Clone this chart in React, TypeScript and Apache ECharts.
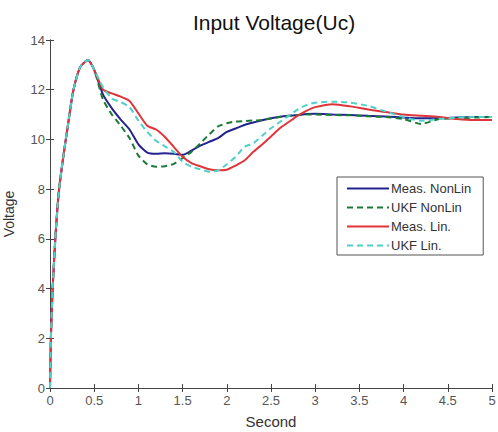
import React, { useEffect, useRef } from "react";
import * as echarts from "echarts";

const time = [0, 0.01, 0.03, 0.06, 0.1, 0.15, 0.2, 0.26, 0.34, 0.43, 0.5, 0.6, 0.7, 0.8, 0.9, 1.0, 1.1, 1.2, 1.3, 1.4, 1.5, 1.6, 1.7, 1.8, 1.9, 2.0, 2.1, 2.2, 2.3, 2.4, 2.5, 2.6, 2.7, 2.8, 2.9, 3.0, 3.2, 3.4, 3.6, 3.8, 4.0, 4.2, 4.4, 4.6, 4.8, 5.0];

const rise = [0, 2, 4, 6, 7.9, 9.3, 10.5, 11.9, 12.9, 13.2, 12.8];

const measNonLin = [...rise, 11.8, 11.25, 10.8, 10.4, 9.8, 9.47, 9.42, 9.44, 9.42, 9.38, 9.55, 9.75, 9.9, 10.05, 10.3, 10.44, 10.58, 10.68, 10.77, 10.85, 10.91, 10.95, 10.98, 11.02, 11.03, 11.0, 10.98, 10.95, 10.92, 10.88, 10.85, 10.85, 10.88, 10.9, 10.9];
const ukfNonLin = [...rise, 11.6, 11.0, 10.55, 10.05, 9.35, 9.0, 8.9, 8.92, 9.02, 9.25, 9.5, 9.84, 10.2, 10.52, 10.65, 10.72, 10.74, 10.76, 10.78, 10.84, 10.9, 10.95, 10.98, 11.0, 11.0, 10.98, 10.97, 10.93, 10.9, 10.82, 10.62, 10.82, 10.85, 10.88, 10.9];
const measLin = [...rise, 12.0, 11.85, 11.72, 11.55, 11.05, 10.55, 10.4, 10.1, 9.7, 9.3, 9.05, 8.92, 8.8, 8.76, 8.78, 8.95, 9.15, 9.5, 9.8, 10.12, 10.45, 10.7, 10.95, 11.15, 11.3, 11.42, 11.33, 11.2, 11.1, 11.0, 10.95, 10.9, 10.82, 10.78, 10.78];
const ukfLin = [...rise, 12.1, 11.65, 11.5, 11.3, 10.75, 10.3, 9.95, 9.72, 9.5, 9.1, 8.9, 8.8, 8.7, 8.75, 9.0, 9.3, 9.7, 9.85, 10.15, 10.45, 10.7, 10.95, 11.2, 11.38, 11.48, 11.52, 11.48, 11.35, 11.12, 10.9, 10.75, 10.82, 10.88, 10.9, 10.9];

const seriesNames = ["Meas. NonLin", "UKF NonLin", "Meas. Lin.", "UKF Lin."];

const pair = (vals: number[]) => time.map((t, i) => [t, vals[i]]);

export default function App() {
  const ref = useRef<HTMLDivElement>(null);
  useEffect(() => {
    if (!ref.current) return;
    const chart = echarts.init(ref.current, null, { renderer: "svg" });
    const font = "Liberation Sans, Arial, sans-serif";
    const axisColor = "#444";
    const lineSeries = (name: string, data: number[], color: string, dashed: boolean) => ({
      name,
      type: "line",
      data: pair(data),
      xAxisIndex: 0,
      yAxisIndex: 0,
      symbol: "none",
      smooth: 0.2,
      lineStyle: { color, width: 2, type: dashed ? [6, 4] : "solid" },
      itemStyle: { color },
    });
    chart.setOption({
      animation: false,
      backgroundColor: "#fff",
      textStyle: { fontFamily: font },
      title: {
        text: "Input Voltage(Uc)",
        left: 269,
        top: 7,
        textAlign: "center",
        textStyle: { fontSize: 21, fontWeight: "normal", color: "#111", fontFamily: font },
      },
      grid: { left: 50, right: 6, top: 40, bottom: 44, containLabel: false, outerBoundsMode: "none" },
      legend: {
        orient: "vertical",
        left: 337,
        top: 177,
        data: seriesNames,
        itemWidth: 42,
        itemHeight: 14,
        itemGap: 6,
        padding: [5, 12, 3, 9],
        backgroundColor: "#fff",
        borderColor: "#555",
        borderWidth: 1,
        borderRadius: 0,
        itemStyle: { opacity: 0 },
        textStyle: { fontSize: 13, color: "#333", fontFamily: font, padding: [0, 0, 0, -3] },
      },
      xAxis: [
        {
          type: "value",
          min: 0,
          max: 5,
          interval: 0.5,
          name: "Second",
          nameLocation: "middle",
          nameGap: 26,
          nameTextStyle: { fontSize: 15, color: "#333", fontFamily: font },
          axisLine: { show: true, lineStyle: { color: axisColor, width: 1 } },
          axisTick: { show: true, inside: true, length: 4, lineStyle: { color: axisColor } },
          axisLabel: { fontSize: 13, color: "#555", margin: 6, fontFamily: font },
          splitLine: { show: false },
        },
        {
          type: "value",
          position: "top",
          min: 0,
          max: 5,
          interval: 0.5,
          axisLine: { show: true, lineStyle: { color: axisColor, width: 1 } },
          axisTick: { show: true, inside: true, length: 4, lineStyle: { color: axisColor } },
          axisLabel: { show: false },
          splitLine: { show: false },
        },
      ],
      yAxis: [
        {
          type: "value",
          min: 0,
          max: 14,
          interval: 2,
          name: "Voltage",
          nameLocation: "middle",
          nameGap: 34,
          nameTextStyle: { fontSize: 14, color: "#333", fontFamily: font },
          axisLine: { show: true, lineStyle: { color: axisColor, width: 1 } },
          axisTick: { show: true, inside: true, length: 4, lineStyle: { color: axisColor } },
          axisLabel: { fontSize: 13, color: "#555", margin: 5, fontFamily: font },
          splitLine: { show: false },
        },
        {
          type: "value",
          position: "right",
          min: 0,
          max: 14,
          interval: 2,
          axisLine: { show: true, lineStyle: { color: axisColor, width: 1 } },
          axisTick: { show: true, inside: true, length: 4, lineStyle: { color: axisColor } },
          axisLabel: { show: false },
          splitLine: { show: false },
        },
      ],
      series: [
        lineSeries(seriesNames[0], measNonLin, "#23238f", false),
        lineSeries(seriesNames[1], ukfNonLin, "#1d7a36", true),
        lineSeries(seriesNames[2], measLin, "#e0343a", false),
        lineSeries(seriesNames[3], ukfLin, "#4fd0c8", true),
      ],
    });
    return () => chart.dispose();
  }, []);
  return (
    <div
      ref={ref}
      style={{ position: "fixed", left: 0, top: 0, width: 498, height: 432, background: "#fff" }}
    />
  );
}
